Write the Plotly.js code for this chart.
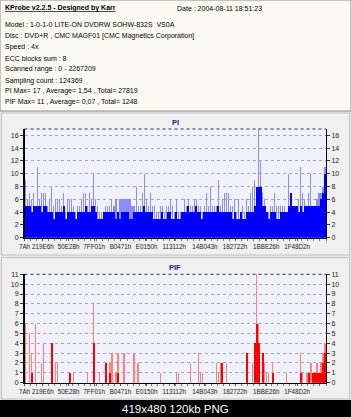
<!DOCTYPE html>
<html>
<head>
<meta charset="utf-8">
<script src="https://cdn.plot.ly/plotly-3.0.1.min.js"></script>
<style>html,body{margin:0;padding:0;background:#e9e9e9;}#chart{width:351px;height:417px;}</style>
</head>
<body>
<div id="chart"></div>
<script>
// ---- data ----
const scanStart = 0;
const scanEnd = 2267209;
const xTickLabels = ["7Ah","219E6h","50E28h","7FF01h","B0471h","E0150h","113112h","14B043h","182722h","1BBE26h","1F48D2h"];
const infoLines = [
  "Model : 1-0-1-0 LITE-ON DVDRW SOHW-832S  VS0A",
  "Disc : DVD+R , CMC MAGF01 [CMC Magnetics Corporation]",
  "Speed : 4x",
  "ECC blocks sum : 8",
  "Scanned range : 0 - 2267209",
  "Sampling count : 124369",
  "PI Max= 17 , Average= 1,54 , Total= 27819",
  "PIF Max= 11 , Average= 0,07 , Total= 1248"
];
// PI per display bin: peak values (thin spikes) and dense base level
const piPeak = [
  9,6,7,6,7,5,11,6,7,7, 7,5,6,8,5,6,6,6,5,7, 4,6,6,6,5,4,5,5,6,7, 7,5,7,6,10,6,5,4,4,4, 5,5,5,6,5,6,4,6,6,6,
  6,6,6,5,5,8,5,5,7,10, 6,5,7,5,5,4,4,5,5,4, 5,5,6,5,4,6,4,4,4,6, 5,6,5,5,6,6,5,5,4,5, 7,5,8,5,5,5,9,5,6,7,
  7,7,5,5,6,4,6,4,5,4, 6,5,7,8,9,8,17,12,7,6, 4,4,5,5,7,5,5,5,5,5, 4,10,7,5,5,5,6,11,7,6, 5,7,10,5,5,6,7,7,8,11
];
const piBase = [
  5,5,5,4,5,5,5,5,4,5, 5,4,4,4,3,4,4,4,4,5, 3,4,4,4,4,3,4,4,4,4, 5,4,4,5,5,4,3,3,3,4, 4,4,4,4,4,3,4,3,4,4,
  4,4,3,3,4,4,4,4,4,5, 4,4,4,4,3,3,3,3,4,3, 3,4,4,3,3,4,3,3,4,4, 4,5,4,4,4,5,4,4,3,4, 4,4,4,4,4,4,5,4,4,4,
  4,4,4,3,4,3,3,4,3,3, 4,4,4,4,5,8,8,8,5,5, 4,3,4,4,4,3,3,4,4,4, 4,5,7,5,5,5,4,5,4,5, 5,5,5,5,5,5,5,6,7,10
];
const pifPeak = [
  6,0,5,3,0,6,0,0,2,4, 0,0,0,4,0,2,2,0,0,0, 0,0,1,0,1,0,0,0,0,0, 0,1,0,0,8,0,0,1,0,0, 2,0,2,3,0,1,3,0,0,3,
  0,0,0,0,3,0,2,0,0,0, 0,0,0,0,0,0,0,1,0,0, 0,0,0,0,0,1,1,0,0,0, 0,0,2,0,0,0,3,1,1,0, 0,0,0,0,0,2,1,2,2,0,
  2,0,0,0,0,0,0,0,0,0, 3,0,0,2,4,11,6,0,3,2, 1,1,0,2,0,0,0,0,0,0, 1,0,0,0,0,0,0,3,1,0, 1,1,2,1,1,2,1,2,3,4
];
const pifBase = [
  0,0,0,1,0,0,0,0,0,0, 0,0,0,4,0,0,0,0,0,0, 0,0,1,0,0,0,0,0,0,0, 0,0,0,0,4,0,0,0,0,0, 2,0,1,0,0,0,1,0,0,0,
  0,0,0,0,0,0,0,0,0,0, 0,0,0,0,0,0,0,0,0,0, 0,0,0,0,0,0,0,0,0,0, 0,0,0,0,0,0,0,0,0,0, 0,0,0,0,0,0,0,0,2,0,
  0,0,0,0,0,0,0,0,0,0, 3,0,0,0,4,6,4,0,3,0, 0,0,0,1,0,0,0,0,0,0, 0,0,0,0,0,0,0,1,0,0, 0,1,0,1,1,1,1,1,2,3
];

// ---- layout helpers ----
const W = 351, H = 417;
const px = v => v / W;
const py = v => 1 - v / H;
const nBins = piPeak.length;
const step = (scanEnd - scanStart) / nBins;
const xs = piPeak.map((_, i) => scanStart + (i + 0.5) * step);
const tickVals = xTickLabels.map(s => parseInt(s.replace('h', ''), 16));

const FONT = "Liberation Sans, Arial, sans-serif";
const xDom = [px(24.5), px(326)];
const piDom = [py(237.7), py(129)];
const pifDom = [py(382.7), py(274.3)];

function bars(y, color, frac, xa, ya) {
  return {type: 'bar', x: xs, y: y, width: step * frac, xaxis: xa, yaxis: ya,
    marker: {color: color, line: {width: 0}}, hoverinfo: 'skip', showlegend: false};
}

const traces = [
  bars(piPeak, '#8c8cff', 0.55, 'x', 'y'),
  bars(piBase, '#0000ff', 1.0, 'x', 'y'),
  bars(pifPeak, '#ff8080', 0.6, 'x2', 'y3'),
  bars(pifBase, '#ff0000', 1.0, 'x2', 'y3')
];

function xAxis(anchor) {
  return {domain: xDom, anchor: anchor, range: [scanStart, scanEnd], tickmode: 'array',
    tickvals: tickVals, ticktext: xTickLabels, tickangle: 0, ticks: 'outside', ticklen: 2, tickcolor: '#555',
    showline: true, linecolor: '#000', linewidth: 1.5, showgrid: false, zeroline: false,
    tickfont: {family: FONT, size: 6.3, color: '#222'}, fixedrange: true,
    minor: {ticks: 'outside', ticklen: 2, dtick: scanEnd / 50, tickcolor: '#777', showgrid: false}};
}
function yAxis(dom, max, dtick, side, overlay, anchor) {
  const a = {domain: dom, range: [0, max], dtick: dtick, tick0: 0, side: side, anchor: anchor,
    ticks: 'outside', ticklen: 3, tickcolor: '#333', showline: true, linecolor: '#000',
    linewidth: side === 'left' ? 1.5 : 1, zeroline: false, fixedrange: true,
    tickfont: {family: FONT, size: 7, color: '#222'},
    showgrid: side === 'left', gridcolor: '#a8a8a8', griddash: 'dot', gridwidth: 1};
  if (overlay) a.overlaying = overlay;
  return a;
}

const shapes = [
  {type: 'rect', xref: 'paper', yref: 'paper', x0: 0, x1: 1, y0: py(0), y1: py(111),
    fillcolor: '#fbfbf3', line: {color: '#8a8a8a', width: 1}, layer: 'below'},
  {type: 'rect', xref: 'paper', yref: 'paper', x0: px(1.5), x1: px(349.5), y0: py(113), y1: py(255),
    fillcolor: '#f0f0f0', line: {color: '#c4c4c4', width: 1}, layer: 'below'},
  {type: 'rect', xref: 'paper', yref: 'paper', x0: px(1.5), x1: px(349.5), y0: py(257.5), y1: py(399),
    fillcolor: '#f0f0f0', line: {color: '#c4c4c4', width: 1}, layer: 'below'},
  {type: 'rect', xref: 'paper', yref: 'paper', x0: xDom[0], x1: xDom[1], y0: piDom[0], y1: piDom[1],
    fillcolor: '#f1f1fd', line: {width: 0}, layer: 'below'},
  {type: 'rect', xref: 'paper', yref: 'paper', x0: xDom[0], x1: xDom[1], y0: pifDom[0], y1: pifDom[1],
    fillcolor: '#f1f1fd', line: {width: 0}, layer: 'below'},
  {type: 'line', xref: 'paper', yref: 'paper', x0: xDom[0], x1: xDom[1], y0: piDom[1], y1: piDom[1],
    line: {color: '#333', width: 1, dash: 'dot'}},
  {type: 'line', xref: 'paper', yref: 'paper', x0: xDom[0], x1: xDom[1], y0: pifDom[1], y1: pifDom[1],
    line: {color: '#333', width: 1, dash: 'dot'}},
  {type: 'rect', xref: 'paper', yref: 'paper', x0: 0, x1: 1, y0: 0, y1: py(400),
    fillcolor: '#000000', line: {width: 0}, layer: 'above'}
];

const annotations = [
  {text: '<b><u>KProbe v2.2.5 - Designed by Karr</u></b>', x: px(3), y: py(8.5), xanchor: 'left', yanchor: 'middle',
    font: {family: FONT, size: 7, color: '#000'}},
  {text: 'Date : 2004-08-11 18:51:23', x: px(175), y: py(8.5), xanchor: 'left', yanchor: 'middle',
    font: {family: FONT, size: 7, color: '#000'}},
  {text: '<b>PI</b>', x: px(175), y: py(123), xanchor: 'center', yanchor: 'middle',
    font: {family: FONT, size: 7.5, color: '#1c1c8a'}},
  {text: '<b>PIF</b>', x: px(175), y: py(267), xanchor: 'center', yanchor: 'middle',
    font: {family: FONT, size: 7.5, color: '#1c1c8a'}},
  {text: '419x480 120kb PNG', x: px(175), y: py(409), xanchor: 'center', yanchor: 'middle',
    font: {family: FONT, size: 11.5, color: '#ffffff'}}
];
const lineY = [25, 36, 47, 58, 69.5, 80.5, 91.5, 102];
infoLines.forEach((t, i) => annotations.push({text: t, x: px(3), y: py(lineY[i]), xanchor: 'left',
  yanchor: 'middle', font: {family: FONT, size: 7, color: '#000'}}));
annotations.forEach(a => { a.xref = 'paper'; a.yref = 'paper'; a.showarrow = false; });

const layout = {
  width: W, height: H, margin: {l: 0, r: 0, t: 0, b: 0, autoexpand: false},
  paper_bgcolor: '#e9e9e9', plot_bgcolor: 'rgba(0,0,0,0)', barmode: 'overlay', bargap: 0,
  showlegend: false,
  xaxis: xAxis('y'),
  yaxis: yAxis(piDom, 17, 2, 'left', null, 'x'),
  yaxis2: yAxis(piDom, 17, 2, 'right', 'y', 'x'),
  xaxis2: xAxis('y3'),
  yaxis3: yAxis(pifDom, 11, 1, 'left', null, 'x2'),
  yaxis4: yAxis(pifDom, 11, 1, 'right', 'y3', 'x2'),
  shapes: shapes, annotations: annotations
};
// empty traces so the right-side axes are drawn
traces.push({type: 'scatter', x: [], y: [], xaxis: 'x', yaxis: 'y2', showlegend: false});
traces.push({type: 'scatter', x: [], y: [], xaxis: 'x2', yaxis: 'y4', showlegend: false});

Plotly.newPlot('chart', traces, layout, {staticPlot: true, displayModeBar: false});
</script>
</body>
</html>
